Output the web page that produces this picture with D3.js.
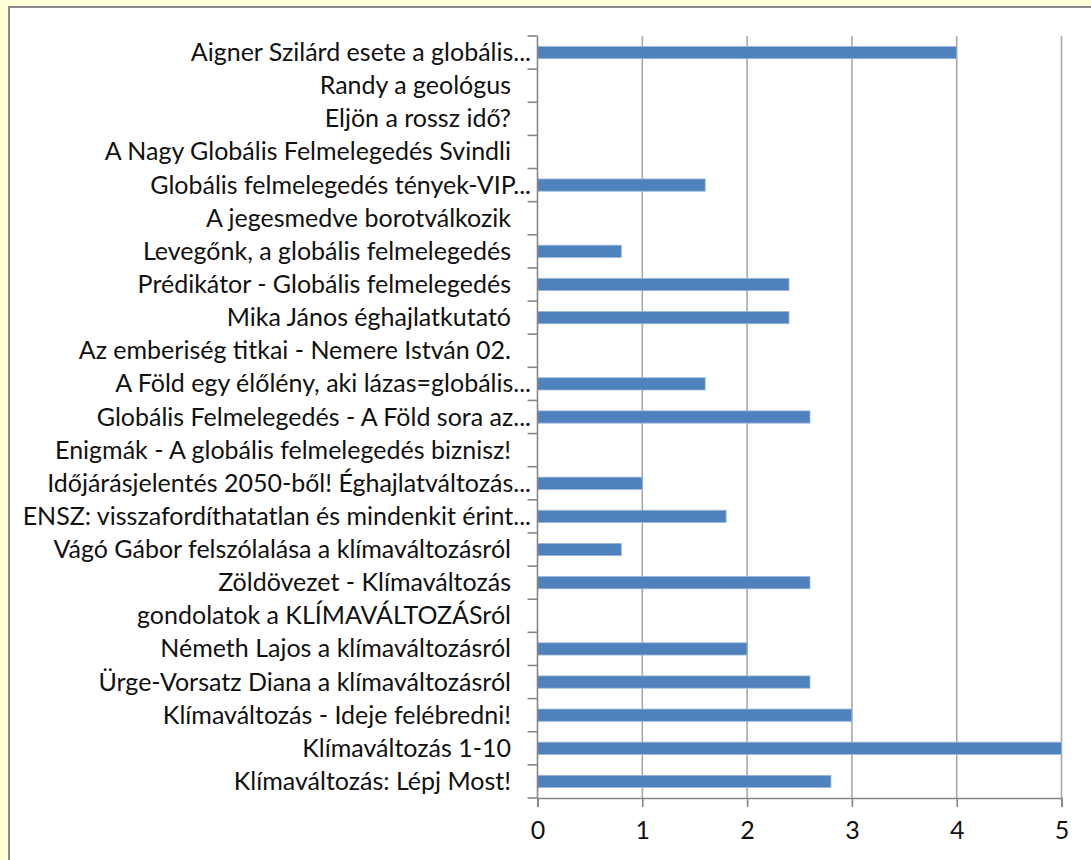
<!DOCTYPE html>
<html>
<head>
<meta charset="utf-8">
<script src="https://cdn.jsdelivr.net/npm/d3@7"></script>
<style>
  html, body { margin:0; padding:0; background:#FFFFD7; }
  svg { display:block; }
  .lbl { font-family: Lato, "Open Sans", sans-serif; font-size:25px; fill:#111; }
  .axis text { font-family: Lato, "Open Sans", sans-serif; font-size:25px; fill:#111; }
</style>
</head>
<body>
<svg id="chart"></svg>
<script>
var categories = [
  "Aigner Szilárd esete a globális...",
  "Randy a geológus",
  "Eljön a rossz idő?",
  "A Nagy Globális Felmelegedés Svindli",
  "Globális felmelegedés tények-VIP...",
  "A jegesmedve borotválkozik",
  "Levegőnk, a globális felmelegedés",
  "Prédikátor - Globális felmelegedés",
  "Mika János éghajlatkutató",
  "Az emberiség titkai - Nemere István 02.",
  "A Föld egy élőlény, aki lázas=globális...",
  "Globális Felmelegedés - A Föld sora az...",
  "Enigmák - A globális felmelegedés biznisz!",
  "Időjárásjelentés 2050-ből! Éghajlatváltozás...",
  "ENSZ: visszafordíthatatlan és mindenkit érint...",
  "Vágó Gábor felszólalása a klímaváltozásról",
  "Zöldövezet - Klímaváltozás",
  "gondolatok a KLÍMAVÁLTOZÁSról",
  "Németh Lajos a klímaváltozásról",
  "Ürge-Vorsatz Diana a klímaváltozásról",
  "Klímaváltozás - Ideje felébredni!",
  "Klímaváltozás 1-10",
  "Klímaváltozás: Lépj Most!"
]
var values = [4, 0, 0, 0, 1.6, 0, 0.8, 2.4, 2.4, 0, 1.6, 2.6, 0, 1, 1.8, 0.8, 2.6, 0, 2, 2.6, 3, 5, 2.8]
var xTicks = [0, 1, 2, 3, 4, 5]

var screen = {width:1091, height:860}
var plot = {left:537.5, right:1061.5, top:36, bottom:798}

var svg = d3.select("#chart")
  .attr("width", screen.width)
  .attr("height", screen.height)

// white chart area with grey frame
svg.append("rect")
  .attr("x", 9).attr("y", 7)
  .attr("width", screen.width).attr("height", screen.height)
  .attr("fill", "#fff")
  .attr("stroke", "#8a8a8a")
  .attr("stroke-width", 2)

var xScale = d3.scaleLinear()
  .domain([0, 5])
  .range([plot.left, plot.right])

var yScale = d3.scaleBand()
  .domain(categories)
  .range([plot.top, plot.bottom])
  .paddingInner(0.63)
  .paddingOuter(0.315)

var step = yScale.step()

// gridlines
svg.append("g")
  .selectAll("line")
  .data(xTicks.slice(1))
  .enter()
  .append("line")
  .attr("x1", function(d){ return xScale(d) })
  .attr("x2", function(d){ return xScale(d) })
  .attr("y1", plot.top)
  .attr("y2", plot.bottom)
  .attr("stroke", "#a8a8a8")
  .attr("stroke-width", 1.6)

// bars
var rows = categories.map(function(c, i){ return {cat:c, v:values[i]} })
svg.append("g")
  .selectAll("rect")
  .data(rows.filter(function(d){ return d.v > 0 }))
  .enter()
  .append("rect")
  .attr("x", xScale(0))
  .attr("y", function(d){ return yScale(d.cat) })
  .attr("width", function(d){ return xScale(d.v) - xScale(0) })
  .attr("height", yScale.bandwidth())
  .attr("fill", "#4F81BD")
  .attr("stroke", "#9db8da")
  .attr("stroke-width", 0.8)

// y axis line and ticks
var yAxisG = svg.append("g")
yAxisG.append("line")
  .attr("x1", plot.left).attr("x2", plot.left)
  .attr("y1", plot.top).attr("y2", plot.bottom)
  .attr("stroke", "#868686").attr("stroke-width", 1.6)
yAxisG.selectAll("line.tk")
  .data(d3.range(categories.length + 1))
  .enter()
  .append("line")
  .classed("tk", true)
  .attr("x1", plot.left - 10).attr("x2", plot.left)
  .attr("y1", function(i){ return plot.top + i * step })
  .attr("y2", function(i){ return plot.top + i * step })
  .attr("stroke", "#868686").attr("stroke-width", 1.6)

// category labels
svg.append("g")
  .selectAll("text")
  .data(categories)
  .enter()
  .append("text")
  .classed("lbl", true)
  .text(function(d){ return d })
  .attr("text-anchor", "end")
  .attr("x", function(d){ return /\.\.\.$/.test(d) ? 531 : 511 })
  .attr("y", function(d){ return yScale(d) + yScale.bandwidth() / 2 })
  .attr("dy", "0.34em")

// x axis
var xAxis = d3.axisBottom(xScale)
  .tickValues(xTicks)
  .tickSize(9)
  .tickPadding(14)
  .tickFormat(d3.format("d"))
var xg = svg.append("g")
  .attr("class", "axis")
  .attr("transform", "translate(0," + plot.bottom + ")")
  .call(xAxis)
xg.select(".domain").attr("stroke", "#868686").attr("stroke-width", 1.6)
xg.selectAll(".tick line").attr("stroke", "#868686").attr("stroke-width", 1.6)
</script>
</body>
</html>
